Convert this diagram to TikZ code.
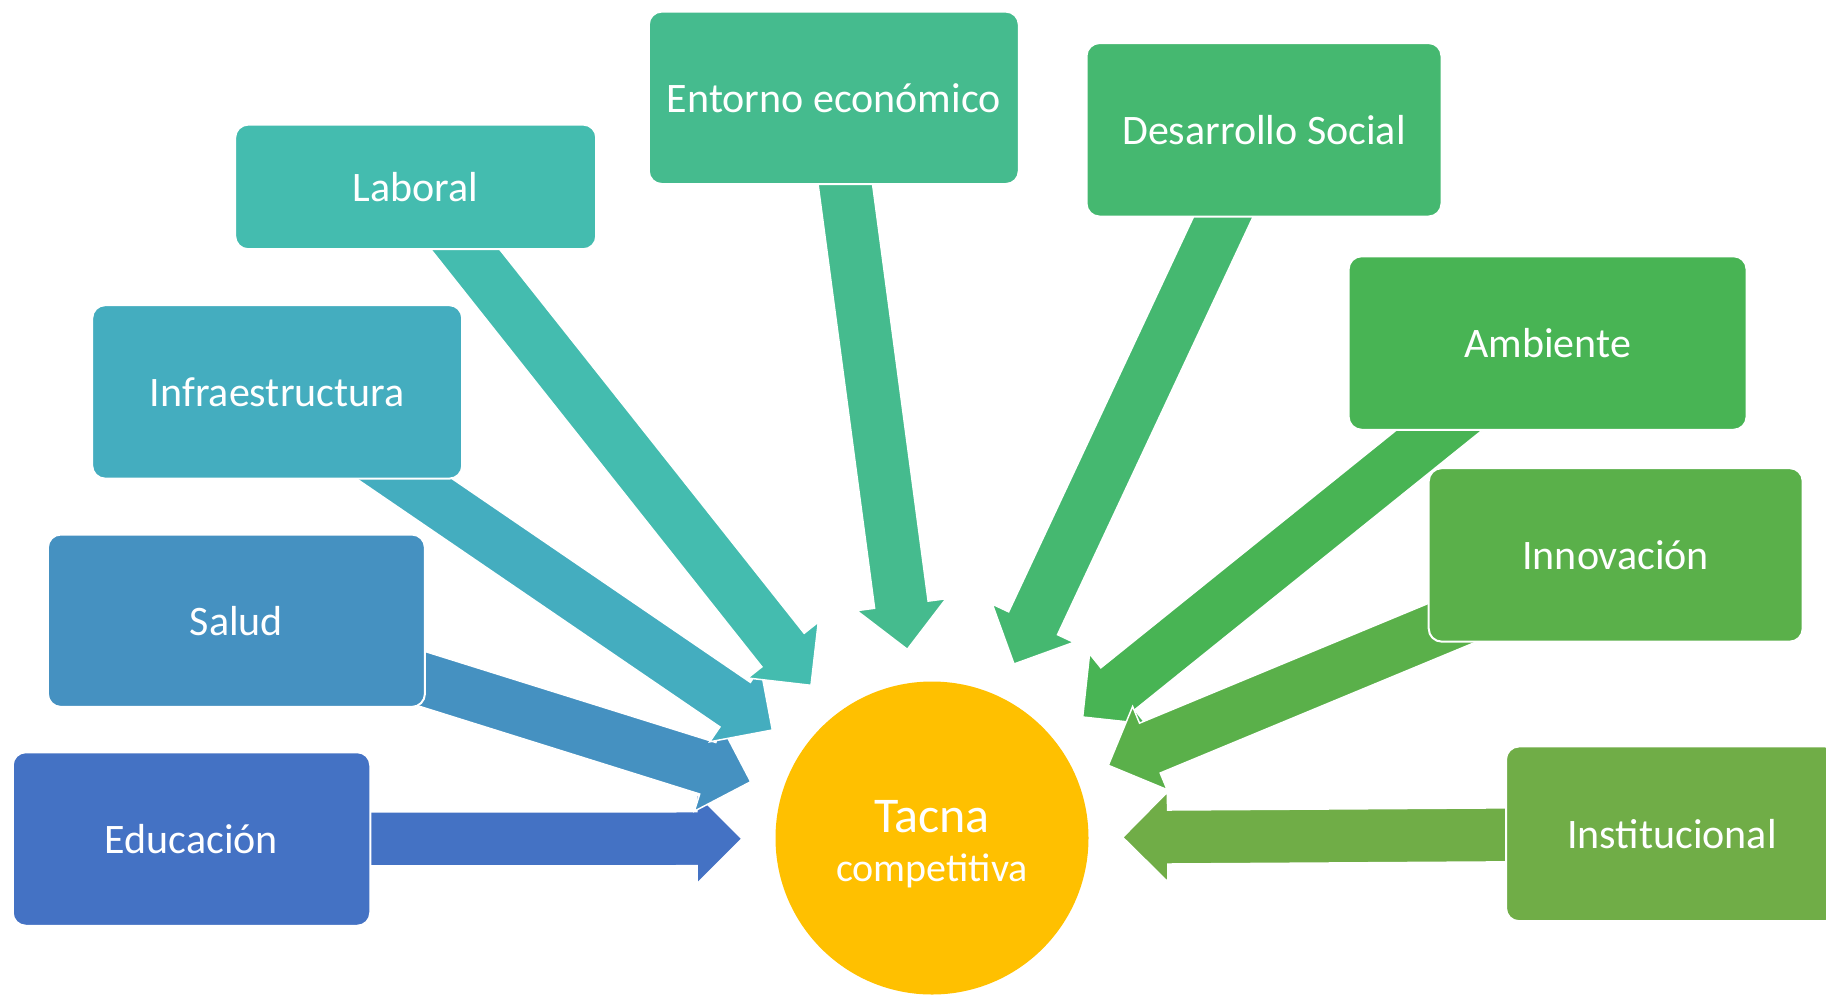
\documentclass[tikz,border=0pt]{standalone}
\usepackage{fontspec}
\setmainfont{Carlito}
\usetikzlibrary{calc}
\pgfdeclarelayer{back}
\pgfsetlayers{back,main}

\definecolor{cEdu}{HTML}{4472C4}
\definecolor{cSal}{HTML}{4591C1}
\definecolor{cInf}{HTML}{44ADBF}
\definecolor{cLab}{HTML}{44BCAF}
\definecolor{cEnt}{HTML}{45BB8E}
\definecolor{cDes}{HTML}{45B870}
\definecolor{cAmb}{HTML}{48B454}
\definecolor{cInn}{HTML}{5AB04A}
\definecolor{cIns}{HTML}{70AD47}
\definecolor{cHub}{HTML}{FFC000}

\tikzset{
  factor/.style={rectangle, rounded corners=13pt, draw=white, line width=2pt,
    text=white, inner sep=0pt, minimum height=173.5pt,
    font=\fontsize{42}{50}\selectfont},
  hub/.style={circle, fill=cHub, inner sep=0pt, minimum size=313pt},
  hubtext/.style={text=white, align=center, inner sep=0pt},
  flow/.style={draw=white, line width=1.5pt, line join=miter},
}

% block arrow from #1 to the tip #2, filled with #3
\newcommand\flowarrow[3]{%
  \coordinate (hb) at ($(#2)!45pt!(#1)$);
  \filldraw[flow, fill=#3]
    ($(#1)!27pt!90:(#2)$) -- ($(hb)!27pt!90:(#2)$) -- ($(hb)!45pt!90:(#2)$)
    -- (#2)
    -- ($(hb)!45pt!-90:(#2)$) -- ($(hb)!27pt!-90:(#2)$) -- ($(#1)!27pt!-90:(#2)$)
    -- cycle;
}

\begin{document}
\begin{tikzpicture}[x=1pt, y=-1pt]
\useasboundingbox (0,0) rectangle (1826,994);

% factor boxes
\node[factor, fill=cEdu, minimum width=357.5pt] (edu) at (191.5,839) {Educación};
\node[factor, fill=cSal, minimum width=377pt, minimum height=172.4pt] (sal) at (236.4,620.7) {Salud};
\node[factor, fill=cInf, minimum width=370pt] (inf) at (277.2,391.9) {Infraestructura};
\node[factor, fill=cLab, minimum width=361pt, minimum height=124.6pt] (lab) at (415.7,186.9) {Laboral};
\node[factor, fill=cEnt, minimum width=370pt, minimum height=172.4pt] (ent) at (833.8,97.8) {Entorno económico};
\node[factor, fill=cDes, minimum width=355pt] (des) at (1264,129.8) {Desarrollo Social};
\node[factor, fill=cAmb, minimum width=398pt] (amb) at (1547.6,343) {Ambiente};
\node[factor, fill=cInn, minimum width=374pt] (inn) at (1615.7,554.9) {Innovación};
\node[factor, fill=cIns, minimum width=332pt, minimum height=174.7pt] (ins) at (1672,833.8) {Institucional};

% central goal
\node[hub] (hub) at (932,838) {};
\node[hubtext] (hubtext) at ($(hub.center)+(0,6)$)
  {{\fontsize{50}{56}\selectfont Tacna}\\[20pt]{\fontsize{40}{46}\selectfont competitiva}};

% arrow tips around the goal
\coordinate (tEdu) at (742,838.7);
\coordinate (tSal) at (750.7,781.7);
\coordinate (tInf) at (772.3,730);
\coordinate (tLab) at (811,685.3);
\coordinate (tEnt) at (907.3,649.3);
\coordinate (tDes) at (1014,664);
\coordinate (tAmb) at (1082.7,717);
\coordinate (tInn) at (1108.3,765.3);
\coordinate (tIns) at (1122.7,837.3);

\begin{pgfonlayer}{back}
  \flowarrow{edu}{tEdu}{cEdu}
  \flowarrow{sal}{tSal}{cSal}
  \flowarrow{inf}{tInf}{cInf}
  \flowarrow{lab}{tLab}{cLab}
  \flowarrow{ent}{tEnt}{cEnt}
  \flowarrow{des}{tDes}{cDes}
  \flowarrow{amb}{tAmb}{cAmb}
  \flowarrow{inn}{tInn}{cInn}
  \flowarrow{ins}{tIns}{cIns}
\end{pgfonlayer}
\end{tikzpicture}
\end{document}
